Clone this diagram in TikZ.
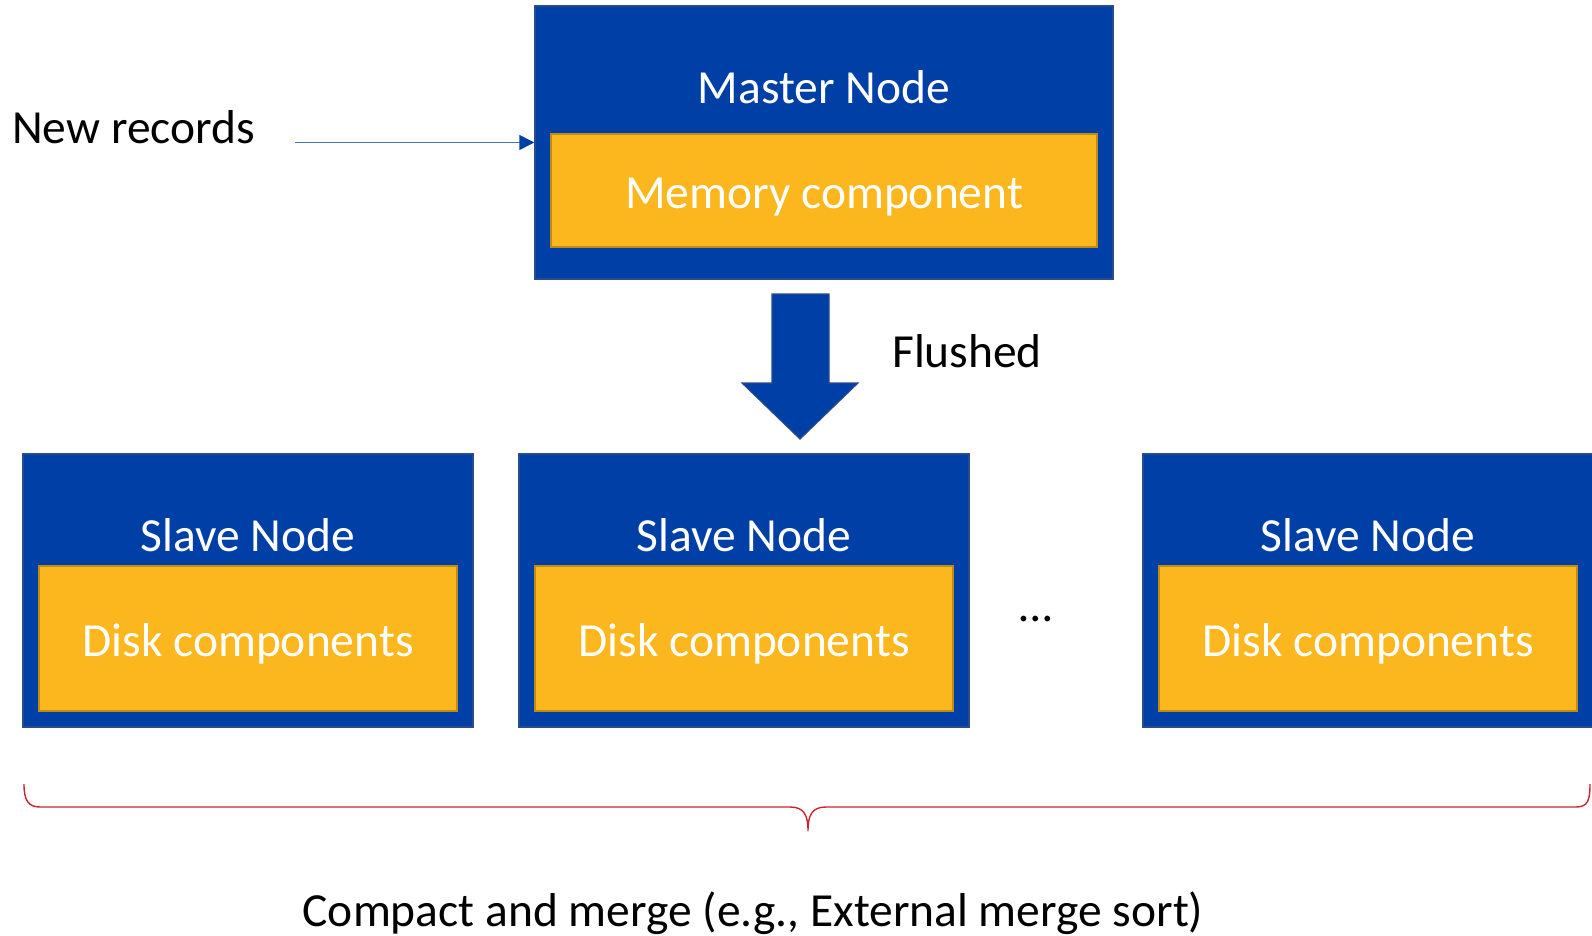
\documentclass[tikz,border=0pt]{standalone}
\usepackage{fontspec}
\setmainfont{Carlito}
\usetikzlibrary{arrows.meta}
\definecolor{nodeblue}{RGB}{0,63,166}
\definecolor{nodeedge}{RGB}{40,75,140}
\definecolor{compyellow}{RGB}{253,183,30}
\definecolor{compedge}{RGB}{190,140,20}
\definecolor{linkblue}{RGB}{68,114,196}
\definecolor{headblue}{RGB}{0,63,166}
\definecolor{bracered}{RGB}{205,35,45}
\tikzset{
  outerbox/.style={draw=nodeedge, line width=1.5pt, fill=nodeblue, minimum width=#1, minimum height=273pt, inner sep=0pt},
  innerbox/.style={draw=compedge, line width=2pt, fill=compyellow, inner sep=0pt},
  whitelabel/.style={text=white, font=\biglabel, inner sep=0pt},
  blacklabel/.style={text=black, font=\biglabel, inner sep=0pt},
}
\newcommand{\biglabel}{\fontsize{47.5}{57}\selectfont}
\begin{document}
\begin{tikzpicture}[x=1pt,y=-1pt]
\useasboundingbox (0,0) rectangle (1592,936);
% master
\node[outerbox=578pt] (master) at (824,142.5) {};
\node[whitelabel] (mastertxt) at (824,87) {Master Node};
\node[innerbox, minimum width=546pt, minimum height=113pt] (memory) at (824,190.5) {};
\node[whitelabel] (memorytxt) at (824,197.5) {Memory component};
% new records
\node[blacklabel, anchor=west] (newrec) at (12,127) {New records};
\coordinate (nrstart) at (295,142.5);
\draw[linkblue, line width=1.6pt, -{Triangle[length=15pt,width=15pt,color=headblue]}] (nrstart) -- (master.west);
% flushed arrow
\filldraw[fill=nodeblue, draw=nodeedge, line width=1.2pt]
  (772,294) -- (829,294) -- (829,383) -- (858,383) -- (800,439) -- (742,383) -- (772,383) -- cycle;
\node[blacklabel, anchor=west] (flushed) at (892,351) {Flushed};
% slaves
\foreach \n/\cx in {s1/248, s2/744, s3/1368}{
  \node[outerbox=450pt] (\n) at (\cx,590.5) {};
  \node[whitelabel] (\n txt) at (\cx,535) {Slave Node};
  \node[innerbox, minimum width=418pt, minimum height=145pt] (\n disk) at (\cx,638.5) {};
  \node[whitelabel] (\n disktxt) at (\cx,643.5) {Disk components};
}
\node[blacklabel] (dots) at (1036,619) {…};
% brace
\draw[bracered, line width=1.4pt]
  (24,784) .. controls (24,800) and (28,807) .. (40,807)
  -- (790,807) .. controls (804,807) and (808,815) .. (808,831)
  .. controls (808,815) and (812,807) .. (826,807)
  -- (1576,807) .. controls (1588,807) and (1590,800) .. (1590,784);
\node[blacklabel] (compact) at (753,913) {Compact and merge (e.g., External merge sort)};
\end{tikzpicture}
\end{document}
